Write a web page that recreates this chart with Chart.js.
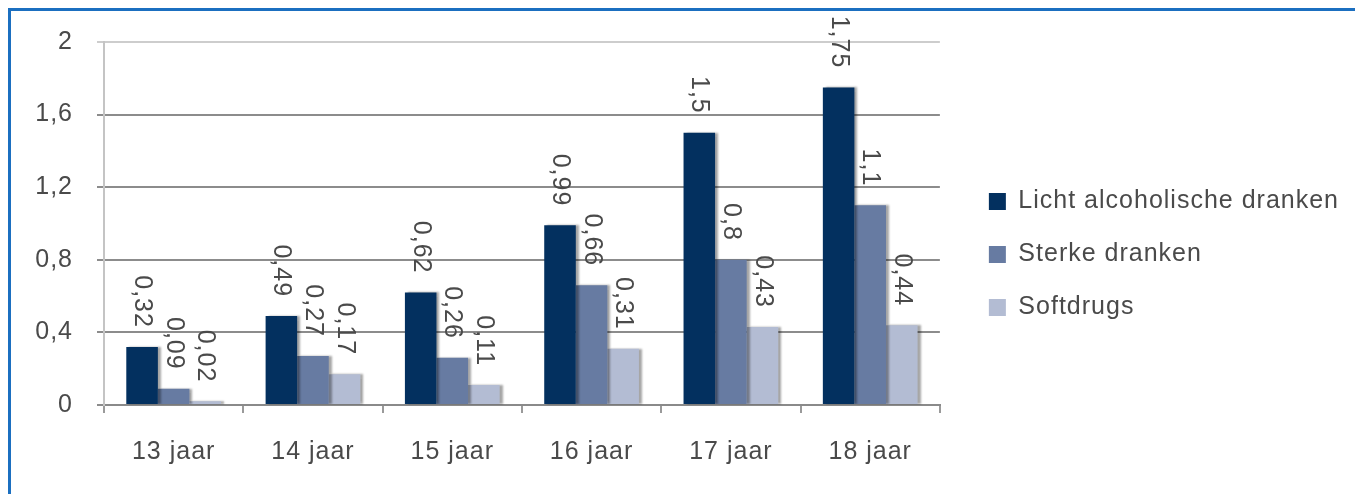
<!DOCTYPE html>
<html>
<head>
<meta charset="utf-8">
<script src="https://cdn.jsdelivr.net/npm/chart.js@4.4.1/dist/chart.umd.min.js"></script>
<style>
    body { margin: 0; background: #ffffff; }
    .frame {
        position: absolute; left: 8px; top: 8px; width: 1400px; height: 600px;
        border-top: 3px solid #1b6fc0; border-left: 3px solid #1b6fc0;
    }
    .chart-box { position: absolute; left: 0; top: 0; width: 1355px; height: 494px; }
</style>
</head>
<body>
<div class="frame"></div>
<div class="chart-box"><canvas id="drugs-chart"></canvas></div>
<script>
// leeftijden en gemiddelden per groep
let ageList = ['13 jaar', '14 jaar', '15 jaar', '16 jaar', '17 jaar', '18 jaar'];
let lichtList = [0.32, 0.49, 0.62, 0.99, 1.5, 1.75];
let sterkList = [0.09, 0.27, 0.26, 0.66, 0.8, 1.1];
let softList = [0.02, 0.17, 0.11, 0.31, 0.43, 0.44];
let yTicks = [0, 0.4, 0.8, 1.2, 1.6, 2];

const textColor = '#4a4a4a';
const fontFamily = '"Liberation Sans", Arial, sans-serif';

function komma(v) {
    return String(Math.round(v * 100) / 100).replace('.', ',');
}

// tekst iets breder zoals in het origineel
var spacingPlugin = {
    id: 'spacing',
    beforeLayout: function (chart) { chart.ctx.letterSpacing = '1px'; },
    beforeDraw: function (chart) { chart.ctx.letterSpacing = '1px'; }
};

// schaduw rechts van de staven
var shadowPlugin = {
    id: 'barShadow',
    beforeDatasetsDraw: function (chart) {
        let ctx = chart.ctx;
        ctx.save();
        ctx.shadowColor = 'rgba(0,0,0,0.35)';
        ctx.shadowBlur = 2;
        ctx.shadowOffsetX = 3;
        ctx.shadowOffsetY = 0;
    },
    afterDatasetsDraw: function (chart) {
        chart.ctx.restore();
    }
};

// gedraaide waarden boven de staven
var valuePlugin = {
    id: 'values',
    afterDatasetsDraw: function (chart) {
        let ctx = chart.ctx;
        chart.data.datasets.forEach(function (ds, i) {
            let meta = chart.getDatasetMeta(i);
            meta.data.forEach(function (bar, j) {
                ctx.save();
                ctx.font = '25px ' + fontFamily;
                ctx.fillStyle = textColor;
                ctx.textAlign = 'right';
                ctx.textBaseline = 'middle';
                ctx.translate(bar.x, bar.y - 19);
                ctx.rotate(Math.PI / 2);
                ctx.fillText(komma(ds.data[j]), 0, 0);
                ctx.restore();
            });
        });
    }
};

var data = {
    labels: ageList,
    datasets: [{
        label: 'Licht alcoholische dranken',
        data: lichtList,
        backgroundColor: '#03305f'
    }, {
        label: 'Sterke dranken',
        data: sterkList,
        backgroundColor: '#677ba2'
    }, {
        label: 'Softdrugs',
        data: softList,
        backgroundColor: '#b3bcd3'
    }]
};

var options = {
    responsive: true,
    maintainAspectRatio: false,
    animation: false,
    layout: { padding: { left: 10, top: 42, right: 6, bottom: 27 } },
    datasets: { bar: { categoryPercentage: 0.68, barPercentage: 1.0 } },
    plugins: {
        tooltip: { enabled: false },
        legend: {
            position: 'right',
            align: 'center',
            maxWidth: 400,
            labels: {
                boxWidth: 17,
                boxHeight: 17,
                padding: 28,
                color: textColor,
                font: { family: fontFamily, size: 25 }
            }
        }
    },
    scales: {
        x: {
            grid: { offset: true, drawOnChartArea: false, tickLength: 8, color: '#9a9a9a', lineWidth: 2 },
            border: { color: '#8a8a8a', width: 2 },
            ticks: { padding: 24, color: textColor, font: { family: fontFamily, size: 25 } },
            afterFit: function (s) { s.height = 62; }
        },
        y: {
            min: 0,
            max: 2,
            afterBuildTicks: function (s) {
                s.ticks = yTicks.map(function (v) { return { value: v }; });
            },
            grid: {
                tickLength: 7,
                lineWidth: 2,
                color: function (c) { return c.tick && c.tick.value === 2 ? '#cdcdcd' : '#8c8c8c'; }
            },
            border: { color: '#c4c4c4', width: 2 },
            ticks: {
                padding: 24,
                color: textColor,
                font: { family: fontFamily, size: 25 },
                callback: function (v) { return komma(v); }
            },
            afterFit: function (s) { s.width = 94; }
        },
        pad: {
            type: 'linear',
            position: 'right',
            display: true,
            grid: { display: false },
            border: { display: false },
            ticks: { display: false },
            afterFit: function (s) { s.width = 21; }
        }
    }
};

var myBarChart = new Chart(document.getElementById('drugs-chart').getContext('2d'), {
    type: 'bar',
    data: data,
    options: options,
    plugins: [spacingPlugin, shadowPlugin, valuePlugin]
});
</script>
</body>
</html>
